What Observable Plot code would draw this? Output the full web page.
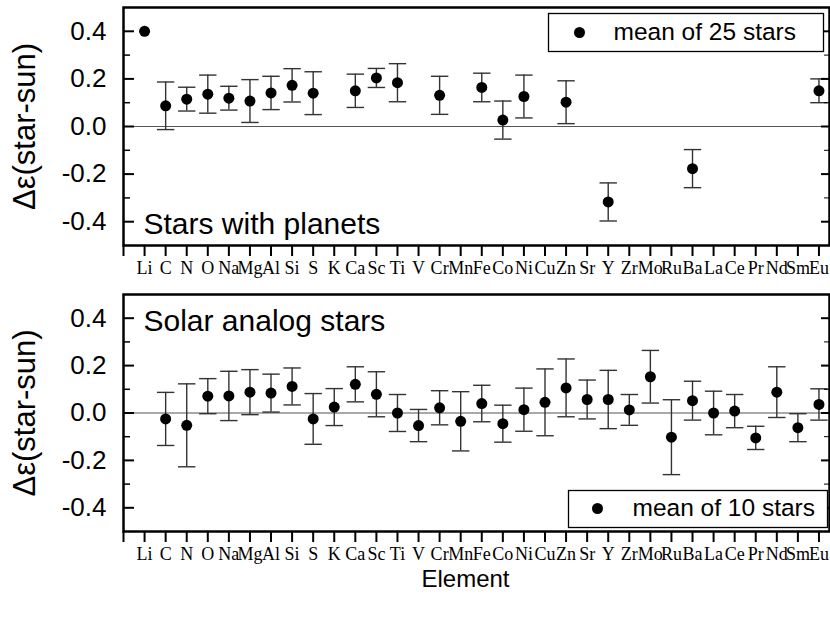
<!DOCTYPE html>
<html>
<head>
<meta charset="utf-8">
<script src="https://cdn.jsdelivr.net/npm/d3@7"></script>
<script src="https://cdn.jsdelivr.net/npm/@observablehq/plot@0.6"></script>
<style>
  html, body { margin: 0; padding: 0; background: #fff; }
  #chart > div, #chart svg { display: block; }
</style>
</head>
<body>
<div id="chart"></div>
<script>
// ---- data ----
const elements = ["Li","C","N","O","Na","Mg","Al","Si","S","K","Ca","Sc","Ti","V","Cr","Mn","Fe","Co","Ni","Cu","Zn","Sr","Y","Zr","Mo","Ru","Ba","La","Ce","Pr","Nd","Sm","Eu"];

// Stars with planets (mean of 25 stars)
const planetMean = [0.400, 0.087, 0.115, 0.136, 0.119, 0.107, 0.141, 0.173, 0.140, null, 0.150, 0.204, 0.184, null, 0.131, null, 0.164, 0.027, 0.126, null, 0.102, null, -0.317, null, null, null, -0.177, null, null, null, null, null, 0.150];
const planetErr  = [null, 0.100, 0.050, 0.080, 0.050, 0.090, 0.070, 0.070, 0.090, null, 0.070, 0.040, 0.080, null, 0.080, null, 0.060, 0.080, 0.090, null, 0.090, null, 0.080, null, null, null, 0.080, null, null, null, null, null, 0.050];

// Solar analog stars (mean of 10 stars)
const analogMean = [null, -0.025, -0.052, 0.071, 0.072, 0.088, 0.084, 0.112, -0.025, 0.025, 0.121, 0.079, 0.000, -0.053, 0.022, -0.035, 0.040, -0.045, 0.014, 0.045, 0.106, 0.057, 0.057, 0.013, 0.153, -0.102, 0.052, 0.000, 0.008, -0.105, 0.088, -0.062, 0.036];
const analogErr  = [null, 0.112, 0.175, 0.074, 0.104, 0.095, 0.080, 0.078, 0.107, 0.078, 0.074, 0.095, 0.078, 0.068, 0.072, 0.125, 0.077, 0.078, 0.091, 0.141, 0.122, 0.082, 0.123, 0.065, 0.111, 0.158, 0.082, 0.092, 0.070, 0.049, 0.107, 0.059, 0.066];

const yTickValues = [-0.4, -0.2, 0.0, 0.2, 0.4];
const yMinorValues = [-0.3, -0.1, 0.1, 0.3];
const yLabel = "Δε(star-sun)";
const xLabel = "Element";

// ---- helpers ----
const W = 830, ML = 123, MR = 1;
const plotW = W - ML - MR;
const sans = "Liberation Sans, Arial, Helvetica, sans-serif";
const serif = "Liberation Serif, Times New Roman, serif";

const capSymbol = {
  draw(ctx, size) {
    const w = Math.sqrt(size / Math.PI);
    ctx.moveTo(-w, 0);
    ctx.lineTo(w, 0);
  }
};

function rows(means, errs) {
  return elements.map((e, i) => ({
    i, e,
    v: means[i],
    lo: means[i] != null && errs[i] != null ? means[i] - errs[i] : null,
    hi: means[i] != null && errs[i] != null ? means[i] + errs[i] : null
  }));
}

function panel({data, height, marginTop, marginBottom, title, titleAnchor, titleDy, legendText, legend, extra = []}) {
  const plotH = height - marginTop - marginBottom;
  const withErr = data.filter(d => d.lo != null);
  return Plot.plot({
    width: W, height, marginLeft: ML, marginRight: MR, marginTop, marginBottom,
    style: {fontFamily: sans, color: "#000", background: "#fff", overflow: "visible"},
    x: {domain: [-1, 32.5]},
    y: {domain: [-0.5, 0.5]},
    marks: [
      Plot.ruleY([0], {stroke: "#555", strokeWidth: 1.2}),
      // error bars
      Plot.ruleX(withErr, {x: "i", y1: "lo", y2: "hi", stroke: "#333", strokeWidth: 1.4}),
      Plot.dot(withErr, {x: "i", y: "hi", symbol: capSymbol, r: 8.7, stroke: "#333", strokeWidth: 1.4, fill: "none"}),
      Plot.dot(withErr, {x: "i", y: "lo", symbol: capSymbol, r: 8.7, stroke: "#333", strokeWidth: 1.4, fill: "none"}),
      Plot.dot(data.filter(d => d.v != null), {x: "i", y: "v", r: 5.5, fill: "#000", stroke: "none"}),
      // inward y ticks, left and right
      Plot.tickY(yTickValues, {y: d => d, insetRight: plotW - 11, stroke: "#000", strokeWidth: 2}),
      Plot.tickY(yMinorValues, {y: d => d, insetRight: plotW - 7, stroke: "#000", strokeWidth: 1.5}),
      Plot.tickY(yTickValues, {y: d => d, insetLeft: plotW - 8, stroke: "#000", strokeWidth: 2}),
      Plot.tickY(yMinorValues, {y: d => d, insetLeft: plotW - 5, stroke: "#000", strokeWidth: 1}),
      Plot.axisY(yTickValues, {tickSize: 0, tickPadding: 17, fontSize: 26, fontFamily: sans, tickFormat: d => d.toFixed(1), label: null}),
      Plot.axisX(d3.range(-1, 33), {tickSize: 11, tickPadding: 5, strokeWidth: 2, fontSize: 18, fontFamily: serif, tickFormat: i => elements[i] ?? "", label: null}),
      Plot.frame({stroke: "#000", strokeWidth: 2.5}),
      // y-axis title
      Plot.text([yLabel], {frameAnchor: "left", rotate: -90, dx: -98, textAnchor: "middle", lineAnchor: "middle", fontSize: 31, fontFamily: sans, fill: "#000"}),
      // panel title
      Plot.text([title], {frameAnchor: titleAnchor, dx: 20, dy: titleDy, textAnchor: "start", lineAnchor: "middle", fontSize: 30, fontFamily: sans, fill: "#000"}),
      // legend box
      Plot.frame({insetLeft: legend.x1 - ML, insetRight: W - MR - legend.x2, insetTop: legend.y1 - marginTop, insetBottom: marginTop + plotH - legend.y2, fill: "#fff", stroke: "#000", strokeWidth: 1.3}),
      Plot.dot([legendText], {frameAnchor: "top-left", dx: legend.dotX - ML, dy: legend.cy - marginTop, r: 5.5, fill: "#000", stroke: "none"}),
      Plot.text([legendText], {frameAnchor: "top-left", dx: legend.textX - ML, dy: legend.cy - marginTop, textAnchor: "start", lineAnchor: "middle", fontSize: 24.5, fontFamily: sans, fill: "#000"}),
      ...extra
    ]
  });
}

const topChart = panel({
  data: rows(planetMean, planetErr),
  height: 290, marginTop: 7, marginBottom: 45,
  title: "Stars with planets", titleAnchor: "bottom-left", titleDy: -21,
  legendText: "mean of 25 stars",
  legend: {x1: 548, x2: 823, y1: 13, y2: 51, dotX: 579, textX: 613, cy: 32}
});

const bottomChart = panel({
  data: rows(analogMean, analogErr),
  height: 333, marginTop: 4, marginBottom: 92,
  title: "Solar analog stars", titleAnchor: "top-left", titleDy: 27,
  legendText: "mean of 10 stars",
  legend: {x1: 568, x2: 827, y1: 200, y2: 237, dotX: 597, textX: 632, cy: 218},
  extra: [Plot.text([xLabel], {frameAnchor: "bottom", dx: -11, dy: 48, lineAnchor: "middle", fontSize: 24, fontFamily: sans, fill: "#000"})]
});

document.getElementById("chart").append(topChart, bottomChart);
</script>
</body>
</html>
